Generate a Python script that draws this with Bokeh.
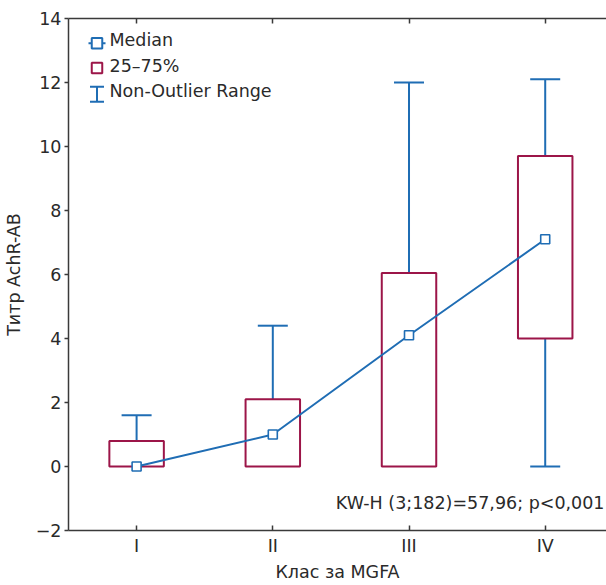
from bokeh.plotting import figure
from bokeh.models import (Range1d, LinearAxis, FixedTicker, Whisker, TeeHead,
                          ColumnDataSource, Label, BoxAnnotation)
from bokeh.embed import file_html
from bokeh.resources import INLINE

# ---- data ----
categories = ["I", "II", "III", "IV"]
positions = [1, 2, 3, 4]
q1 = [0.0, 0.0, 0.0, 4.0]
q3 = [0.8, 2.1, 6.05, 9.7]
medians = [0.0, 1.0, 4.1, 7.1]
whisker_low = [0.0, 0.0, 0.0, 0.0]
whisker_high = [1.6, 4.4, 12.0, 12.1]
y_ticks = [-2, 0, 2, 4, 6, 8, 10, 12, 14]
legend_labels = ["Median", "25–75%", "Non-Outlier Range"]
stat_text = "KW-H (3;182)=57,96; p<0,001"
x_title = "Клас за MGFA"
y_title = "Титр AchR-AB"

BLUE = "#1f6db4"
CRIMSON = "#9c1548"
TEXT = "#2a2a2a"
AXIS = "#3a3a3a"
FONT = "DejaVu Sans"
FS = "17.5px"

p = figure(width=606, height=585,
           x_range=Range1d(0.5, 4.45), y_range=Range1d(-2, 14),
           output_backend="svg", toolbar_location=None,
           min_border_left=67, min_border_top=18, min_border_right=0,
           min_border_bottom=55)
p.outline_line_color = None
p.xgrid.visible = False
p.ygrid.visible = False
p.background_fill_color = "white"
p.border_fill_color = "white"

# bottom axis
xa = p.xaxis[0]
xa.ticker = FixedTicker(ticks=positions)
xa.major_label_overrides = {pos: lab for pos, lab in zip(positions, categories)}
xa.major_tick_in = 5
xa.major_tick_out = 0
xa.minor_tick_line_color = None
xa.major_label_standoff = 5
xa.axis_label = x_title
xa.axis_label_standoff = 3

# left axis
ya = p.yaxis[0]
ya.ticker = FixedTicker(ticks=y_ticks)
ya.major_label_overrides = {t: (("−" + str(-t)) if t < 0 else str(t)) for t in y_ticks}
ya.major_tick_in = 0
ya.major_tick_out = 4
ya.minor_tick_line_color = None
ya.major_label_standoff = 3
ya.axis_label = y_title
ya.axis_label_standoff = 9

# top axis (ticks only)
ta = LinearAxis(ticker=FixedTicker(ticks=positions),
                major_label_overrides={pos: "" for pos in positions},
                major_label_text_font_size="0px",
                major_tick_in=5, major_tick_out=0,
                minor_tick_line_color=None, major_label_standoff=0)
p.add_layout(ta, "above")

for ax in (xa, ya, ta):
    ax.axis_line_color = AXIS
    ax.axis_line_width = 1.5
    ax.major_tick_line_color = AXIS
    ax.major_tick_line_width = 1.5
for ax in (xa, ya):
    ax.major_label_text_font = FONT
    ax.major_label_text_font_size = FS
    ax.major_label_text_color = TEXT
    ax.axis_label_text_font = FONT
    ax.axis_label_text_font_size = FS
    ax.axis_label_text_font_style = "normal"
    ax.axis_label_text_color = TEXT

src = ColumnDataSource(dict(x=positions, q1=q1, q3=q3, med=medians,
                            lo=whisker_low, hi=whisker_high))
# lower whiskers only where they extend below the box
low_idx = [i for i in range(len(positions)) if whisker_low[i] < q1[i]]
low_src = ColumnDataSource(dict(x=[positions[i] for i in low_idx],
                                q1=[q1[i] for i in low_idx],
                                lo=[whisker_low[i] for i in low_idx]))

# whiskers (under the boxes)
up_w = Whisker(source=src, base="x", lower="q3", upper="hi", dimension="height",
               line_color=BLUE, line_width=2, lower_head=None,
               upper_head=TeeHead(size=30, line_color=BLUE, line_width=2),
               level="underlay")
lo_w = Whisker(source=low_src, base="x", lower="lo", upper="q1", dimension="height",
               line_color=BLUE, line_width=2, upper_head=None,
               lower_head=TeeHead(size=30, line_color=BLUE, line_width=2),
               level="underlay")
p.add_layout(up_w)
p.add_layout(lo_w)

# boxes
p.vbar(x="x", width=0.4, bottom="q1", top="q3", source=src,
       fill_color=None, line_color=CRIMSON, line_width=2)

# median line + markers
p.line("x", "med", source=src, line_color=BLUE, line_width=2)
p.scatter("x", "med", source=src, marker="square", size=9,
          fill_color="white", line_color=BLUE, line_width=1.6)

# statistic text
p.add_layout(Label(x=536, y=28, x_units="screen", y_units="screen",
                   text=stat_text, text_align="right", text_baseline="alphabetic",
                   text_font=FONT, text_font_size=FS, text_color=TEXT))

# ---- manual legend (screen units from frame bottom-left) ----
one = ColumnDataSource(dict(k=[0]))
glyph_y = [487.3, 462.5, 436.3]
text_y = [490.3, 464.7, 439.5]
gx = 28.5
# Median: line with square
p.add_layout(Whisker(source=one, base=glyph_y[0], lower=gx - 8.5, upper=gx + 8.5,
                     base_units="screen", lower_units="screen", upper_units="screen",
                     dimension="width", line_color=BLUE, line_width=2,
                     lower_head=None, upper_head=None))
p.add_layout(BoxAnnotation(left=gx - 5.25, right=gx + 5.25,
                           bottom=glyph_y[0] - 5.25, top=glyph_y[0] + 5.25,
                           left_units="screen", right_units="screen",
                           bottom_units="screen", top_units="screen",
                           fill_color="white", fill_alpha=1, line_color=BLUE, line_width=2,
                           line_alpha=1))
# 25-75%: crimson square
p.add_layout(BoxAnnotation(left=gx - 5.25, right=gx + 5.25,
                           bottom=glyph_y[1] - 5.25, top=glyph_y[1] + 5.25,
                           left_units="screen", right_units="screen",
                           bottom_units="screen", top_units="screen",
                           fill_color=None, line_color=CRIMSON, line_width=2, line_alpha=1))
# Non-outlier range: I-beam
p.add_layout(Whisker(source=one, base=gx, lower=glyph_y[2] - 7.5, upper=glyph_y[2] + 7.5,
                     base_units="screen", lower_units="screen", upper_units="screen",
                     dimension="height", line_color=BLUE, line_width=2,
                     lower_head=TeeHead(size=14, line_color=BLUE, line_width=2),
                     upper_head=TeeHead(size=14, line_color=BLUE, line_width=2)))
for lab, yy in zip(legend_labels, text_y):
    p.add_layout(Label(x=41, y=yy, x_units="screen", y_units="screen", text=lab,
                       text_baseline="middle", text_font=FONT, text_font_size=FS,
                       text_color=TEXT))

open("out.html", "w").write(file_html(p, INLINE))
